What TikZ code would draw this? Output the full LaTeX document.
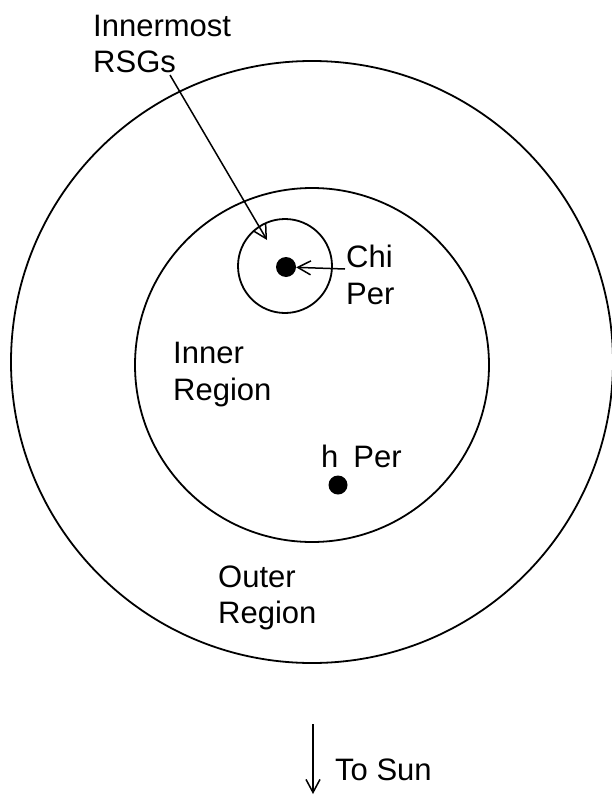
\documentclass[tikz,border=0pt]{standalone}
\usepackage{fontspec}
\setmainfont{Liberation Sans}
\usetikzlibrary{arrows.meta}
\begin{document}
\begin{tikzpicture}[x=1pt,y=-1pt,
  ring/.style={draw, line width=1.8pt},
  lbl/.style={anchor=base west, inner sep=0pt, font=\fontsize{31}{36}\selectfont},
  star/.style={circle, fill, inner sep=0pt, minimum size=20pt},
  pointer/.style={line width=1.5pt, -{Straight Barb[length=13pt,width=14pt]}}]
\useasboundingbox (0,0) rectangle (611,797);
% regions
\draw[ring] (312,362) circle[radius=301];
\draw[ring] (312,365) circle[radius=177];
\draw[ring] (285,266) circle[radius=47];
% clusters
\node[star] (chi) at (286,267) {};
\node[star, minimum size=19pt] (hper) at (338,485) {};
% labels
\node[lbl] (innA) at (93,37) {Innermost};
\node[lbl] (innB) at (93,73) {RSGs};
\node[lbl] (chiA) at (346,267) {Chi};
\node[lbl] (chiB) at (346,304) {Per};
\node[lbl] (inrA) at (173,363) {Inner};
\node[lbl] (inrB) at (173,400) {Region};
\node[lbl] (hlab) at (321,467) {h\hspace{15pt}Per};
\node[lbl] (outA) at (218,587) {Outer};
\node[lbl] (outB) at (218,623) {Region};
\node[lbl] (sun) at (335,780) {To Sun};
% pointers
\coordinate (rsgtail) at (170,75);
\coordinate (rsghead) at (267,240);
\draw[pointer] (rsgtail) -- (rsghead);
\coordinate (chitail) at (345,269);
\draw[pointer] (chitail) -- (chi);
\coordinate (suntop) at (313,724);
\coordinate (sunbot) at (313,794);
\draw[pointer] (suntop) -- (sunbot);
\end{tikzpicture}
\end{document}
